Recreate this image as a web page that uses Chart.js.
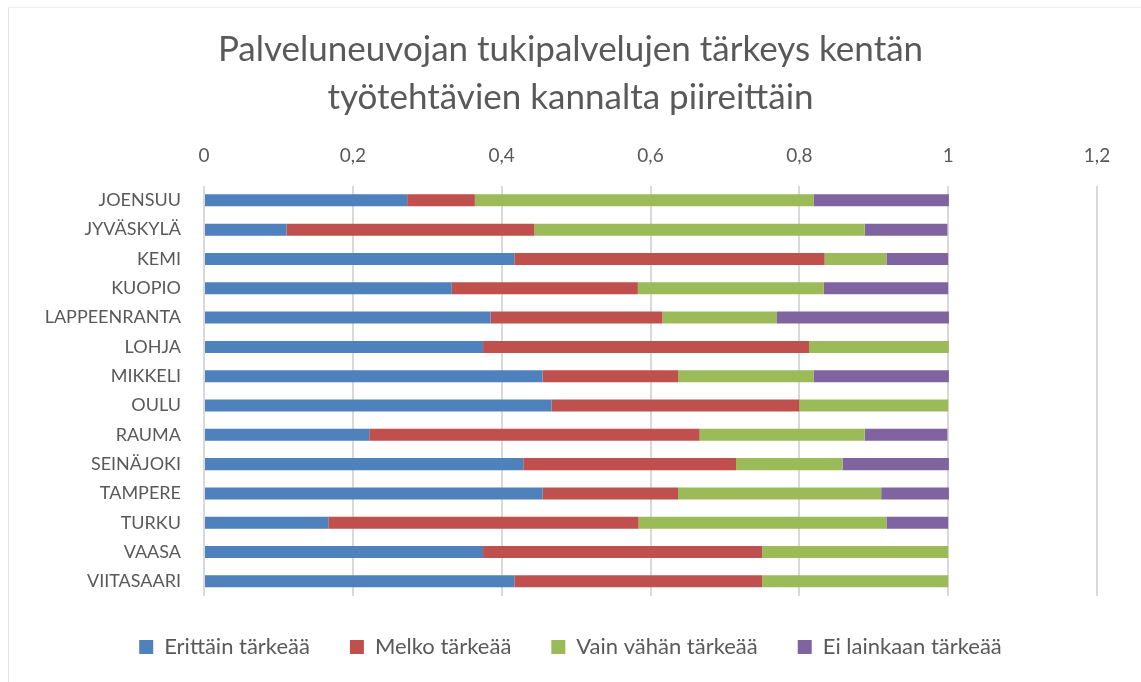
<!DOCTYPE html>
<html>
<head>
<meta charset="utf-8">
<script src="https://cdn.jsdelivr.net/npm/chart.js@4"></script>
<style>
  html, body { margin: 0; padding: 0; background: #fff; }
  #wrap { position: relative; width: 1141px; height: 682px; overflow: hidden; }
  #frame { position: absolute; left: 8px; top: 7px; width: 1200px; height: 700px;
           border-left: 1px solid #e3e3e3; border-top: 1px solid #eeeeee; }
  #box { position: absolute; left: 0; top: 0; width: 1141px; height: 682px; }
</style>
</head>
<body>
<div id="wrap">
  <div id="frame"></div>
  <div id="box"><canvas id="chart"></canvas></div>
</div>
<script>
// piirit
const piirit = ['JOENSUU', 'JYVÄSKYLÄ', 'KEMI', 'KUOPIO', 'LAPPEENRANTA', 'LOHJA', 'MIKKELI',
  'OULU', 'RAUMA', 'SEINÄJOKI', 'TAMPERE', 'TURKU', 'VAASA', 'VIITASAARI'];

// osuudet luettu kuvasta
const erittain   = [0.273, 0.111, 0.417, 0.333, 0.385, 0.375, 0.455, 0.467, 0.222, 0.429, 0.455, 0.167, 0.375, 0.417];
const melko      = [0.091, 0.333, 0.417, 0.250, 0.231, 0.438, 0.182, 0.333, 0.444, 0.286, 0.182, 0.417, 0.375, 0.333];
const vainVahan  = [0.455, 0.444, 0.083, 0.250, 0.154, 0.188, 0.182, 0.200, 0.222, 0.143, 0.273, 0.333, 0.250, 0.250];
const eiLainkaan = [0.182, 0.111, 0.083, 0.167, 0.231, 0.000, 0.182, 0.000, 0.111, 0.143, 0.091, 0.083, 0.000, 0.000];

const sarjat = ['Erittäin tärkeää', 'Melko tärkeää', 'Vain vähän tärkeää', 'Ei lainkaan tärkeää'];
const xTicks = [0, 0.2, 0.4, 0.6, 0.8, 1, 1.2];

const fontti = 'Lato, "Open Sans", sans-serif';
const harmaa = '#595959';

const ds = (label, data, color) => ({
  label: label,
  data: data,
  backgroundColor: color,
  borderWidth: 0,
  barPercentage: 0.41,
  categoryPercentage: 1
});

new Chart(document.getElementById('chart'), {
  type: 'bar',
  data: {
    labels: piirit,
    datasets: [
      ds(sarjat[0], erittain, '#4F81BD'),
      ds(sarjat[1], melko, '#C0504D'),
      ds(sarjat[2], vainVahan, '#9BBB59'),
      ds(sarjat[3], eiLainkaan, '#8064A2')
    ]
  },
  options: {
    indexAxis: 'y',
    responsive: true,
    maintainAspectRatio: false,
    animation: false,
    layout: { padding: { left: 0, right: 0, top: 26, bottom: 14 } },
    plugins: {
      title: {
        display: true,
        text: ['Palveluneuvojan tukipalvelujen tärkeys kentän', 'työtehtävien kannalta piireittäin'],
        color: harmaa,
        font: { family: fontti, size: 35, weight: 'normal', lineHeight: 1.37 },
        padding: { top: 0, bottom: 5 }
      },
      legend: {
        position: 'bottom',
        labels: {
          color: harmaa,
          font: { family: fontti, size: 22 },
          boxWidth: 14,
          boxHeight: 14,
          padding: 40
        }
      },
      tooltip: { enabled: false }
    },
    scales: {
      x: {
        position: 'top',
        stacked: true,
        min: 0,
        max: 1.2,
        afterBuildTicks: (scale) => { scale.ticks = xTicks.map(v => ({ value: v })); },
        ticks: {
          color: harmaa,
          font: { family: fontti, size: 19 },
          padding: 18,
          callback: (v) => String(Math.round(v * 10) / 10).replace('.', ',')
        },
        grid: { color: '#d9d9d9', lineWidth: 2, drawTicks: false },
        border: { display: false }
      },
      y: {
        stacked: true,
        afterFit: (scale) => { scale.width = 204; },
        ticks: {
          color: harmaa,
          font: { family: fontti, size: 18 },
          padding: 15
        },
        grid: { display: false },
        border: { display: false }
      },
      // tyhjä oikea akseli pitää piirtoalueen oikean reunan paikallaan
      yOikea: {
        position: 'right',
        display: true,
        afterFit: (scale) => { scale.width = 44; },
        ticks: { display: false },
        grid: { display: false },
        border: { display: false }
      }
    }
  }
});
</script>
</body>
</html>
